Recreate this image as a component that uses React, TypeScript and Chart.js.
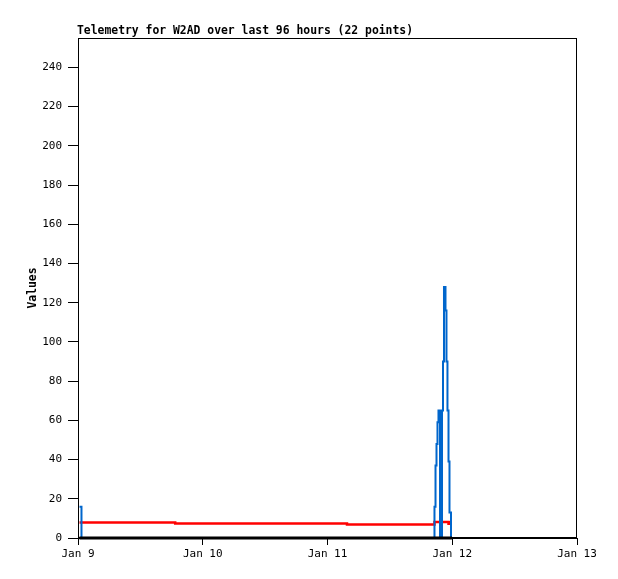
import React, { useEffect, useRef } from "react";
import { Chart, registerables } from "chart.js";

Chart.register(...registerables);

const titleText = "Telemetry for W2AD over last 96 hours (22 points)";
const yAxisLabel = "Values";
const startDay = 9;
const dayTicks = [0, 24, 48, 72, 96];
const yTicks = [0, 20, 40, 60, 80, 100, 120, 140, 160, 180, 200, 220, 240];

// hours since Jan 9 00:00
const hours = [0.29, 0.67, 18.7, 51.75, 68.58, 68.78, 68.97, 69.16, 69.35, 69.64, 70.03, 70.22, 70.41, 70.7, 70.89, 71.08, 71.28, 71.47, 71.76, 71.95];
const blueValues = [16, 0, 0, 0, 16, 37, 48, 59, 65, 0, 65, 90, 128, 116, 90, 65, 39, 13, 0, 0];
const redValues = [7.9, 7.9, 7.4, 6.9, 8.1, 8.1, 8.1, 8.1, 8.1, 8.1, 8.1, 8.1, 8.1, 8.1, 8.1, 8.1, 7.3, 8.0, 8.0, 8.0];
const blackValues = [0, 0, 0, 0, 0, 0, 0, 0, 0, 0, 0, 0, 0, 0, 0, 0, 0, 0, 0, 0];

const mono = "'DejaVu Sans Mono', monospace";

const framePlugin = {
  id: "frameAndTitles",
  afterDraw(chart: any) {
    const { ctx, chartArea } = chart;
    ctx.save();
    ctx.strokeStyle = "#000";
    ctx.lineWidth = 1;
    const l = Math.round(chartArea.left) + 0.5;
    const t = Math.round(chartArea.top) + 0.5;
    const r = Math.round(chartArea.right) - 0.5;
    const b = Math.round(chartArea.bottom) - 0.5;
    ctx.strokeRect(l, t, r - l, b - t);
    ctx.fillStyle = "#000";
    ctx.font = "bold 11.4px " + mono;
    ctx.textAlign = "left";
    ctx.textBaseline = "alphabetic";
    ctx.fillText(titleText, 77, 34);
    ctx.translate(36, (chartArea.top + chartArea.bottom) / 2);
    ctx.rotate(-Math.PI / 2);
    ctx.textAlign = "center";
    ctx.fillText(yAxisLabel, 0, 0);
    ctx.restore();
  },
};

function pts(vals: number[]) {
  return hours.map((h, i) => ({ x: h, y: vals[i] }));
}

export default function App() {
  const ref = useRef<HTMLCanvasElement>(null);
  useEffect(() => {
    if (!ref.current) return;
    const chart = new Chart(ref.current, {
      type: "line",
      data: {
        datasets: [
          { label: "red", data: pts(redValues), borderColor: "#ff0000", borderWidth: 2.5, stepped: "before", pointRadius: 0, clip: false, order: 3 },
          { label: "blue", data: pts(blueValues), borderColor: "#0066cc", borderWidth: 2, stepped: "before", pointRadius: 0, clip: false, order: 2 },
          { label: "black", data: pts(blackValues), borderColor: "#000000", borderWidth: 3, stepped: "before", pointRadius: 0, clip: false, order: 1 },
        ],
      },
      options: {
        responsive: false,
        animation: false,
        layout: { padding: { left: 0, right: 41, top: 38, bottom: 0 } },
        plugins: { legend: { display: false }, tooltip: { enabled: false }, title: { display: false } },
        scales: {
          x: {
            type: "linear",
            min: 0,
            max: 96,
            afterBuildTicks: (s: any) => { s.ticks = dayTicks.map((v) => ({ value: v })); },
            afterFit: (s: any) => { s.height = 41; },
            ticks: {
              autoSkip: false,
              maxRotation: 0,
              color: "#000",
              font: { family: mono, size: 11 },
              padding: 3,
              callback: (v: any) => "Jan " + (startDay + Number(v) / 24),
            },
            grid: { drawOnChartArea: false, drawTicks: true, tickLength: 7, color: "#000" },
            border: { display: true, color: "#000", width: 1 },
          },
          y: {
            type: "linear",
            min: 0,
            max: 255,
            afterBuildTicks: (s: any) => { s.ticks = yTicks.map((v) => ({ value: v })); },
            afterFit: (s: any) => { s.width = 78; },
            ticks: {
              color: "#000",
              font: { family: mono, size: 11 },
              padding: 6,
            },
            grid: { drawOnChartArea: false, drawTicks: true, tickLength: 10, color: "#000" },
            border: { display: true, color: "#000", width: 1 },
          },
        },
      },
      plugins: [framePlugin],
    });
    return () => chart.destroy();
  }, []);
  return (
    <div style={{ position: "fixed", left: 0, top: 0, width: 618, height: 579, background: "#fff" }}>
      <canvas ref={ref} width={618} height={579} style={{ width: 618, height: 579 }} />
    </div>
  );
}
